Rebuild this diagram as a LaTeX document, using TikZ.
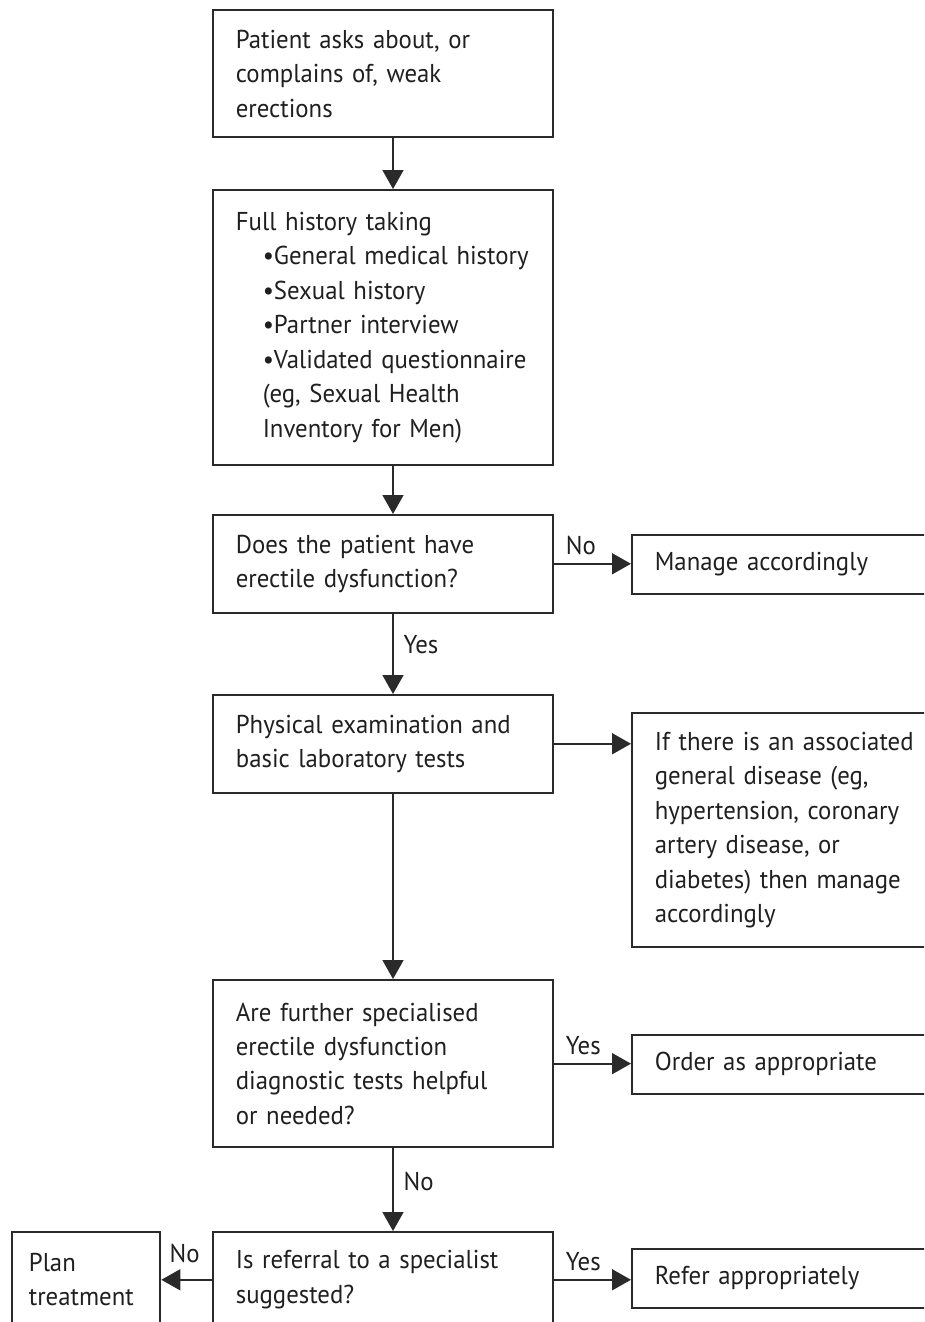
\documentclass[tikz,border=0pt]{standalone}
\usepackage{fontspec}
\setmainfont{PT Sans}[FakeStretch=0.96]
\usepackage{tikz}
\usetikzlibrary{arrows.meta}
\definecolor{inkgray}{HTML}{2A2A2A}
\newlength{\pxu}
\setlength{\pxu}{0.5669pt}
\newcommand{\bindent}{\hspace*{27\pxu}}

\tikzset{
	flowbox/.style={draw=inkgray, line width=1.1pt, rectangle, anchor=north west, align=left,
		inner xsep=23\pxu, inner ysep=0pt, text=black!88,
		font={\fontsize{14.7pt}{19.6pt}\selectfont}},
	flowline/.style={draw=inkgray, line width=1.1pt, -{Triangle[length=10.8pt, width=11.9pt]}},
	answer/.style={text=black!88, inner sep=1pt, font={\fontsize{14.7pt}{16pt}\selectfont}}
}

\begin{document}
\begin{tikzpicture}[x=0.02cm, y=-0.02cm]
	\useasboundingbox (0,0) rectangle (924,1322);
	\clip (0,0) rectangle (924,1322);
	\coordinate (spine) at (393,0);

	% main column
	\node[flowbox, text width=295\pxu, minimum height=128\pxu] (complain) at (212,9)
		{Patient asks about, or\\complains of, weak\\erections};
	\node[flowbox, text width=295\pxu, minimum height=276\pxu] (history) at (212,189)
		{Full history taking\\
		\bindent\textbullet General medical history\\
		\bindent\textbullet Sexual history\\
		\bindent\textbullet Partner interview\\
		\bindent\textbullet Validated questionnaire\\
		\bindent(eg, Sexual Health\\
		\bindent Inventory for Men)};
	\node[flowbox, text width=295\pxu, minimum height=98\pxu] (hased) at (212,514)
		{Does the patient have\\erectile dysfunction?};
	\node[flowbox, text width=295\pxu, minimum height=98\pxu] (physical) at (212,694)
		{Physical examination and\\basic laboratory tests};
	\node[flowbox, text width=295\pxu, minimum height=168\pxu] (further) at (212,979)
		{Are further specialised\\erectile dysfunction\\diagnostic tests helpful\\or needed?};
	\node[flowbox, text width=295\pxu, minimum height=96\pxu] (referral) at (212,1231)
		{Is referral to a specialist\\suggested?};

	% side boxes
	\node[flowbox, text width=283\pxu, minimum height=59\pxu] (manage) at (631,534)
		{Manage accordingly};
	\node[flowbox, text width=283\pxu, minimum height=235\pxu] (general) at (631,712)
		{If there is an associated\\general disease (eg,\\hypertension, coronary\\artery disease, or\\diabetes) then manage\\accordingly};
	\node[flowbox, text width=283\pxu, minimum height=59\pxu] (order) at (631,1034)
		{Order as appropriate};
	\node[flowbox, text width=283\pxu, minimum height=59\pxu] (refer) at (631,1248)
		{Refer appropriately};
	\node[flowbox, inner xsep=17\pxu, text width=115\pxu, minimum height=96\pxu] (plan) at (11,1231)
		{Plan\\treatment};

	% connectors
	\draw[flowline] (complain.south -| spine) -- (history.north -| spine);
	\draw[flowline] (history.south -| spine) -- (hased.north -| spine);
	\draw[flowline] (hased.south -| spine) -- node[answer, anchor=west, pos=0.39, xshift=4.5pt] {Yes} (physical.north -| spine);
	\draw[flowline] (physical.south -| spine) -- (further.north -| spine);
	\draw[flowline] (further.south -| spine) -- node[answer, anchor=west, pos=0.4, xshift=4.5pt] {No} (referral.north -| spine);

	\draw[flowline] (hased.east) -- node[answer, anchor=south west, pos=0, xshift=5.5pt, yshift=3.5pt] {No} (hased.east -| manage.west);
	\draw[flowline] (physical.east) -- (physical.east -| general.west);
	\draw[flowline] (further.east) -- node[answer, anchor=south west, pos=0, xshift=5.5pt, yshift=3.5pt] {Yes} (further.east -| order.west);
	\draw[flowline] (referral.east) -- node[answer, anchor=south west, pos=0, xshift=5.5pt, yshift=3.5pt] {Yes} (referral.east -| refer.west);
	\draw[flowline] (referral.west) -- node[answer, anchor=south east, pos=0, xshift=-5.5pt, yshift=8pt] {No} (plan.east);
\end{tikzpicture}
\end{document}
